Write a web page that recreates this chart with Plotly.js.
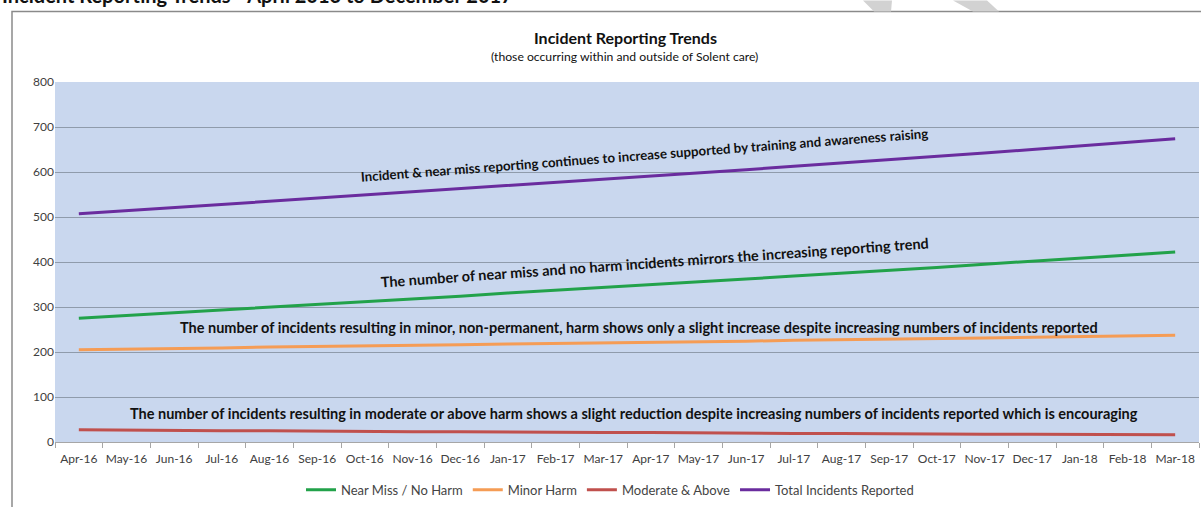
<!DOCTYPE html>
<html>
<head>
<meta charset="utf-8">
<script src="https://cdn.plot.ly/plotly-3.0.1.min.js"></script>
<style>html,body{margin:0;padding:0;background:#fff;}#chart{width:1201px;height:507px;}</style>
</head>
<body>
<div id="chart"></div>
<script>
// ---- data ----
const months = ["Apr-16","May-16","Jun-16","Jul-16","Aug-16","Sep-16","Oct-16","Nov-16","Dec-16","Jan-17","Feb-17","Mar-17","Apr-17","May-17","Jun-17","Jul-17","Aug-17","Sep-17","Oct-17","Nov-17","Dec-17","Jan-18","Feb-18","Mar-18"];
const nearMissNoHarm = [275,281,287,294,300,306,312,318,324,331,337,344,350,356,362,369,375,382,388,395,402,408,415,422];
const minorHarm = [205,206,208,209,211,212,213,215,216,218,219,220,222,223,224,226,227,228,230,231,233,234,236,237];
const moderateAbove = [27,26,26,25,25,24,24,23,23,22,22,21,21,20,20,19,19,18,18,17,17,17,16,16];
const totalReported = [507,514,521,528,534,541,548,555,562,569,577,584,591,598,605,613,620,627,635,642,650,658,666,674];
const seriesNames = ["Near Miss / No Harm","Minor Harm","Moderate & Above","Total Incidents Reported"];
const yTicks = [0,100,200,300,400,500,600,700,800];

// ---- layout helpers (pixel -> paper) ----
const L = 55, R = 1199, T = 82, B = 444;
const px = x => (x - L) / (R - L);
const py = y => (B - y) / (B - T);
const FONT = "Lato, 'Open Sans', sans-serif";

const colors = ["#22a24a", "#f59c55", "#c0504d", "#6a2c9e"];
const seriesData = [nearMissNoHarm, minorHarm, moderateAbove, totalReported];
const traces = seriesData.map((ys, i) => ({
  type: "scatter", mode: "lines", x: months, y: ys, name: seriesNames[i],
  line: {color: colors[i], width: 3}, hoverinfo: "x+y+name"
}));

const ann = (text, x, y, size, angle, extra) => Object.assign({
  text: text, xref: "paper", yref: "paper", x: px(x), y: py(y),
  xanchor: "center", yanchor: "middle", showarrow: false, textangle: angle,
  font: {family: FONT, size: size, color: "#111"}
}, extra || {});

const layout = {
  width: 1201, height: 507,
  margin: {l: L, r: 1201 - R, t: T, b: 507 - B},
  paper_bgcolor: "#ffffff",
  plot_bgcolor: "#c9d7ee",
  showlegend: true,
  legend: {orientation: "h", x: px(610), xanchor: "center", y: py(492), yanchor: "middle",
           font: {family: FONT, size: 13, color: "#444"}, bgcolor: "rgba(0,0,0,0)", itemwidth: 30, tracegroupgap: 0},
  xaxis: {type: "category", tickvals: months, ticktext: months, showgrid: false, tickangle: 0,
          ticks: "outside", tickson: "boundaries", ticklen: 5, tickcolor: "#a6a6a6",
          showline: true, linecolor: "#a6a6a6", linewidth: 1, ticklabelstandoff: 6,
          tickfont: {family: FONT, size: 12, color: "#404040"}, fixedrange: true, range: [-0.5, 23.5]},
  yaxis: {range: [0, 800], tickvals: yTicks, showgrid: true, gridcolor: "#8f9bab", gridwidth: 1,
          zeroline: false, showline: false, ticks: "",
          tickfont: {family: FONT, size: 12, color: "#404040"}, fixedrange: true},
  shapes: [
    {type: "rect", xref: "paper", yref: "paper", x0: px(12), x1: px(1215), y0: py(530), y1: py(11),
     line: {color: "#8a8a8a", width: 1.5}, fillcolor: "rgba(0,0,0,0)", layer: "below"},
    {type: "path", xref: "paper", yref: "paper",
     path: `M ${px(863)} ${py(0)} L ${px(892)} ${py(0)} L ${px(891)} ${py(11)} L ${px(874)} ${py(11)} Z`,
     fillcolor: "#d2d2d2", line: {width: 0}},
    {type: "path", xref: "paper", yref: "paper",
     path: `M ${px(953)} ${py(0)} L ${px(987)} ${py(0)} L ${px(999)} ${py(11)} L ${px(973)} ${py(11)} Z`,
     fillcolor: "#d2d2d2", line: {width: 0}}
  ],
  annotations: [
    ann("<b>Incident Reporting Trends - April 2016 to December 2017</b>", 0, -5, 20, 0, {xanchor: "left"}),
    ann("<b>Incident Reporting Trends</b>", 625, 37, 16, 0),
    ann("(those occurring within and outside of Solent care)", 624, 56, 12.2, 0),
    ann("<b>Incident & near miss reporting continues to increase supported by training and awareness raising</b>", 644, 155, 13.3, -4.4),
    ann("<b>The number of near miss and no harm incidents mirrors the increasing reporting trend</b>", 654, 263, 14.5, -4.1),
    ann("<b>The number of incidents resulting in minor, non-permanent, harm shows only a slight increase despite increasing numbers of incidents reported</b>", 639, 329, 14.5, 0),
    ann("<b>The number of incidents resulting in moderate or above harm shows a slight reduction despite increasing numbers of incidents reported which is encouraging</b>", 634, 415, 14.5, 0)
  ]
};

Plotly.newPlot("chart", traces, layout, {displayModeBar: false, staticPlot: true});
</script>
</body>
</html>
